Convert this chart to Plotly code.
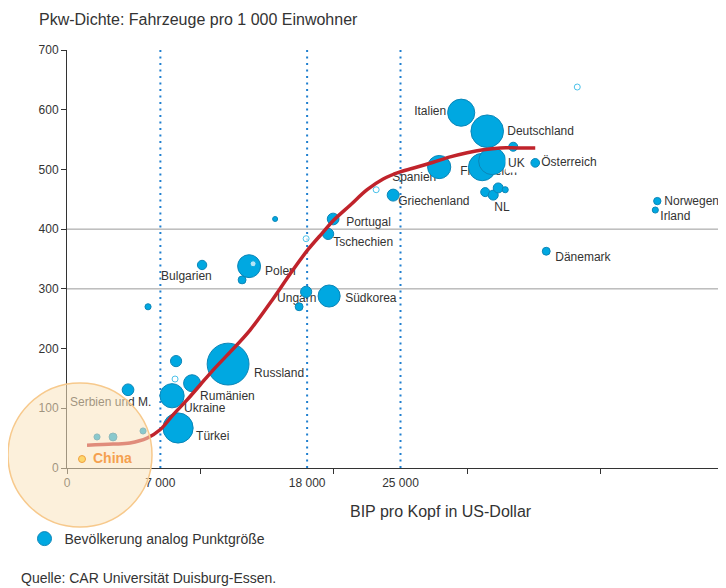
import plotly.graph_objects as go

# ---------------- data ----------------
country = ["Russland", "Deutschland", "Italien", "Frankreich", "UK", "Spanien",
           "", "Österreich", "", "NL", "", "", "Griechenland",
           "Norwegen", "Irland", "Dänemark", "Portugal", "Tschechien", "",
           "Südkorea", "Ungarn", "", "Polen", "", "Bulgarien", "",
           "", "Ukraine", "Rumänien", "Türkei", "Serbien und M.", "", "", ""]
gdp_pc = [12075, 31500, 29550, 31125, 31875, 27900,
          33450, 35100, 31350, 31950, 32325, 32850, 24450,
          44250, 44100, 35925, 19950, 19575, 15600,
          19650, 17925, 17400, 13650, 13125, 10125, 6075,
          8175, 7875, 9375, 8325, 4575, 2250, 3450, 5700]
car_density = [174, 564, 595, 504, 514, 504,
               538, 511, 462, 457, 469, 466, 457,
               447, 432, 363, 417, 392, 417,
               288, 295, 270, 338, 315, 340, 270,
               179, 121, 142, 67, 131, 52, 52, 62]
population = [140, 85, 59, 60, 59, 43,
              6.5, 6, 6.5, 8, 8, 3, 11.5,
              4.3, 3, 5, 11, 10, 2,
              39, 10, 5, 42, 5, 7, 3,
              10, 47, 23, 73, 11, 3, 5, 3]

# very small countries (drawn as hollow dots)
small_gdp = [38250, 23175, 17925, 13950, 8100]
small_cars = [638, 466, 384, 342, 149]
small_pop = [0.5, 1.3, 1.3, 1.3, 1.3]

# trend curve
curve_gdp = [1500, 3450, 4725, 6000, 6975, 7950, 9000, 9975, 10950, 12225,
             13725, 15375, 16725, 18075, 19200, 19950, 21225, 22500, 23700,
             24975, 26250, 27450, 28725, 30000, 31200, 32475, 33750, 35100]
curve_cars = [38, 40, 42, 50, 64, 89, 114, 139, 164, 194,
              231, 281, 325, 366, 395, 414, 440, 466, 484,
              496, 504, 512, 521, 528, 533, 536, 536, 536]

china_gdp = 1125
china_cars = 15

thresholds = [7000, 18000, 25000]
threshold_labels = ["7 000", "18 000", "25 000"]
minor_ticks = [0, 10000, 20000, 30000, 40000]
y_ticks = [0, 100, 200, 300, 400, 500, 600, 700]
grid_levels = [300, 400]

# label placement (pixel offsets from the bubble centre, text anchor)
label_style = {
    "Italien": (-15, -1, "middle left"),
    "Deutschland": (20, 1, "middle right"),
    "Frankreich": (-22, 5, "middle right"),
    "Spanien": (-47, 11, "middle right"),
    "Österreich": (6, 0, "middle right"),
    "NL": (1, 13, "middle right"),
    "Griechenland": (5, 7, "middle right"),
    "Norwegen": (7, 1, "middle right"),
    "Irland": (5, 7, "middle right"),
    "Dänemark": (9, 7, "middle right"),
    "Portugal": (13, 4, "middle right"),
    "Tschechien": (5, 9, "middle right"),
    "Südkorea": (16, 3, "middle right"),
    "Ungarn": (-29, 7, "middle right"),
    "Polen": (16, 6, "middle right"),
    "Bulgarien": (-41, 12, "middle right"),
    "Russland": (26, 10, "middle right"),
    "Rumänien": (8, 14, "middle right"),
    "Ukraine": (12, 13, "middle right"),
    "Türkei": (18, 9, "middle right"),
    "Serbien und M.": (-58, 13, "middle right"),
}
# labels drawn on top with an opaque background
boxed_labels = {"UK": (15, 2)}

# ---------------- layout geometry ----------------
# the page body adds an 8px offset; the figure is sized to fill the window
OFF = 8
W, H = 726 - OFF, 588 - OFF
PLOT_L, PLOT_R, PLOT_T, PLOT_B = 67, 718, 50, 468   # page pixels
ML, MR = PLOT_L - OFF, (W + OFF) - PLOT_R
MT, MB = PLOT_T - OFF, (H + OFF) - PLOT_B
X_RANGE = [0, 48800]
Y_RANGE = [0, 700]
PW, PH = PLOT_R - PLOT_L, PLOT_B - PLOT_T
XPX = (X_RANGE[1] - X_RANGE[0]) / PW
YPX = (Y_RANGE[1] - Y_RANGE[0]) / PH


def px_x(px):
    return (px - PLOT_L) / PW


def px_y(py):
    return (PLOT_B - py) / PH


FONT = "Liberation Sans, Arial, sans-serif"
TXT = "#333333"
BLUE = "#00a8e1"
BLUE_EDGE = "#0b86b8"

fig = go.Figure()

# labels (below bubbles)
lx, ly, lt, lp = [], [], [], []
for name, gx, cy in zip(country, gdp_pc, car_density):
    if name and name in label_style:
        dx, dy, pos = label_style[name]
        lx.append(gx + dx * XPX)
        ly.append(cy - dy * YPX)
        lt.append(name)
        lp.append(pos)
fig.add_trace(go.Scatter(x=lx, y=ly, text=lt, mode="text", textposition=lp,
                         textfont=dict(family=FONT, size=12, color=TXT),
                         showlegend=False, hoverinfo="skip", cliponaxis=False))

# bubbles (area proportional to population)
SIZEREF = 0.16
fig.add_trace(go.Scatter(
    x=gdp_pc, y=car_density, mode="markers", text=country,
    marker=dict(size=population, sizemode="area", sizeref=SIZEREF, sizemin=2,
                color=BLUE, opacity=1, line=dict(color=BLUE_EDGE, width=1)),
    showlegend=False))
fig.add_trace(go.Scatter(
    x=small_gdp, y=small_cars, mode="markers",
    marker=dict(size=small_pop, sizemode="area", sizeref=SIZEREF, sizemin=3,
                color="white", line=dict(color=BLUE, width=1)),
    showlegend=False))

# trend curve
fig.add_trace(go.Scatter(x=curve_gdp, y=curve_cars, mode="lines",
                         line=dict(color="#c0232b", width=3.5, shape="spline", smoothing=1.0),
                         showlegend=False, hoverinfo="skip"))

# legend entry
fig.add_trace(go.Scatter(x=[None], y=[None], mode="markers",
                         name="Bevölkerung analog Punktgröße",
                         marker=dict(size=14, color=BLUE, line=dict(color=BLUE_EDGE, width=1))))

shapes = []
for g in grid_levels:
    shapes.append(dict(type="line", xref="paper", yref="y", x0=0, x1=1, y0=g, y1=g,
                       line=dict(color="#9a9a9a", width=1), layer="below"))
for t in thresholds:
    shapes.append(dict(type="line", xref="x", yref="paper", x0=t, x1=t, y0=0, y1=1.01,
                       line=dict(color="#1f7fcf", width=2, dash="2px,4.5px"), layer="below"))
# translucent highlight circle around China
cx, cy, r = 80, 455, 72
shapes.append(dict(type="circle", xref="paper", yref="paper",
                   x0=px_x(cx - r), x1=px_x(cx + r), y0=px_y(cy + r), y1=px_y(cy - r),
                   fillcolor="rgba(250,228,190,0.55)",
                   line=dict(color="#f7c98c", width=1.5), layer="above"))
# China point
shapes.append(dict(type="circle", xref="x", yref="y", xsizemode="pixel", ysizemode="pixel",
                   xanchor=china_gdp, yanchor=china_cars, x0=-3.5, x1=3.5, y0=-3.5, y1=3.5,
                   fillcolor="#fdd66c", line=dict(color="#f0a040", width=1), layer="above"))

annotations = [
    dict(text="<b>China</b>", x=china_gdp, y=china_cars, xref="x", yref="y",
         xanchor="left", yanchor="middle", xshift=9, yshift=1, showarrow=False,
         font=dict(family=FONT, size=14, color="#f5a04f")),
    dict(text="Pkw-Dichte: Fahrzeuge pro 1 000 Einwohner", xref="paper", yref="paper",
         x=px_x(37), y=px_y(20), xanchor="left", yanchor="middle", showarrow=False,
         font=dict(family=FONT, size=16, color=TXT)),
    dict(text="BIP pro Kopf in US-Dollar", xref="paper", yref="paper",
         x=px_x(441), y=px_y(512), xanchor="center", yanchor="middle", showarrow=False,
         font=dict(family=FONT, size=16, color=TXT)),
    dict(text="Quelle: CAR Universität Duisburg-Essen.", xref="paper", yref="paper",
         x=px_x(19), y=px_y(578), xanchor="left", yanchor="middle", showarrow=False,
         font=dict(family=FONT, size=14, color=TXT)),
]
for name, gx, cy in zip(country, gdp_pc, car_density):
    if name in boxed_labels:
        dx, dy = boxed_labels[name]
        annotations.append(dict(text=name, x=gx, y=cy, xref="x", yref="y",
                                xanchor="left", yanchor="middle", xshift=dx - 2, yshift=-dy,
                                showarrow=False, bgcolor="white", borderpad=2,
                                font=dict(family=FONT, size=12, color=TXT)))

fig.update_layout(
    width=W, height=H, margin=dict(l=ML, r=MR, t=MT, b=MB),
    paper_bgcolor="white", plot_bgcolor="white",
    font=dict(family=FONT, size=12, color=TXT),
    shapes=shapes, annotations=annotations,
    showlegend=True,
    legend=dict(x=px_x(24.5), y=px_y(539), xanchor="left", yanchor="middle",
                font=dict(family=FONT, size=14, color=TXT), bgcolor="rgba(0,0,0,0)"),
    xaxis=dict(range=X_RANGE, showgrid=False, zeroline=False, showline=True,
               linecolor="#333", linewidth=1,
               tickmode="array", tickvals=[0] + thresholds, ticktext=["0"] + threshold_labels,
               ticks="outside", ticklen=4, tickcolor="rgba(0,0,0,0)",
               tickfont=dict(size=12, color=TXT),
               minor=dict(tickmode="array", tickvals=minor_ticks, ticks="outside",
                          ticklen=5, tickcolor="#333", showgrid=False)),
    yaxis=dict(range=Y_RANGE, showgrid=False, zeroline=False, showline=True,
               linecolor="#333", linewidth=1,
               tickmode="array", tickvals=y_ticks, ticks="outside", ticklen=5,
               tickcolor="#333", tickfont=dict(size=12, color=TXT)),
)

fig.write_html("out.html")
